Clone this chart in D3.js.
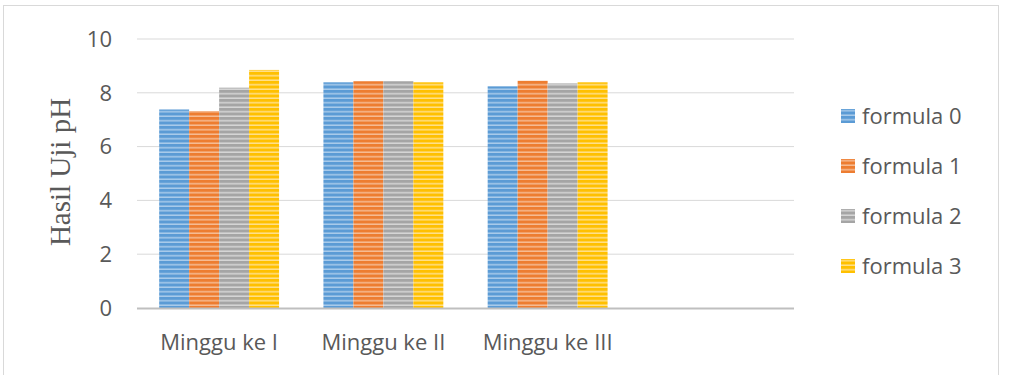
<!DOCTYPE html>
<html>
<head>
<meta charset="utf-8">
<script src="https://cdn.jsdelivr.net/npm/d3@7"></script>
<style>
  body { margin: 0; background: #fff; }
  svg { display: block; }
</style>
</head>
<body>
<svg id="chart" width="1018" height="375"></svg>
<script>
// data
const categories = ['Minggu ke I', 'Minggu ke II', 'Minggu ke III', ''];
const seriesNames = ['formula 0', 'formula 1', 'formula 2', 'formula 3'];
const formula0 = [7.38, 8.39, 8.24];
const formula1 = [7.32, 8.43, 8.45];
const formula2 = [8.19, 8.43, 8.35];
const formula3 = [8.85, 8.39, 8.39];
const yTicks = [0, 2, 4, 6, 8, 10];

const seriesValues = [formula0, formula1, formula2, formula3];
const colors = ['#5B9BD5', '#ED7D31', '#A5A5A5', '#FFC000'];
const lightColors = ['#A9CBEA', '#F6BC94', '#D6D6D6', '#FFE08A'];

const svg = d3.select('#chart');

// rand om de grafiek
svg.append('rect')
    .attr('x', 3.5).attr('y', 5.5)
    .attr('width', 995).attr('height', 380)
    .attr('fill', '#fff')
    .attr('stroke', '#D9D9D9')
    .attr('stroke-width', 1);

// streeppatronen voor de staven
const defs = svg.append('defs');
colors.forEach((c, i) => {
    const p = defs.append('pattern')
        .attr('id', 'stripe' + i)
        .attr('patternUnits', 'userSpaceOnUse')
        .attr('width', 10).attr('height', 4.5);
    p.append('rect').attr('width', 10).attr('height', 4.5).attr('fill', c);
    p.append('rect').attr('y', 3).attr('width', 10).attr('height', 1.5).attr('fill', lightColors[i]);
});

const margin = { left: 137, right: 224, top: 39, bottom: 67 };
const width = 1018 - margin.left - margin.right;
const plotBottom = 308;
const labelFont = 'Open Sans, sans-serif';

const x0 = d3.scaleBand()
    .domain(d3.range(categories.length))
    .range([margin.left, margin.left + width])
    .paddingInner(0.27)
    .paddingOuter(0.135);

const x1 = d3.scaleBand()
    .domain(d3.range(seriesNames.length))
    .range([0, x0.bandwidth()]);

const y = d3.scaleLinear()
    .domain([0, 10])
    .range([plotBottom, margin.top]);

// rasterlijnen
svg.append('g')
    .selectAll('line')
    .data(yTicks.filter(d => d > 0))
    .join('line')
    .attr('x1', margin.left).attr('x2', margin.left + width)
    .attr('y1', d => y(d)).attr('y2', d => y(d))
    .attr('stroke', '#D9D9D9')
    .attr('stroke-width', 1);

// y-as labels
svg.append('g')
    .selectAll('text')
    .data(yTicks)
    .join('text')
    .attr('x', 112)
    .attr('y', d => y(d))
    .attr('dy', '0.35em')
    .attr('text-anchor', 'end')
    .attr('font-family', labelFont)
    .attr('font-size', 22)
    .attr('fill', '#595959')
    .text(d => d);

// staven
const groups = svg.append('g')
    .selectAll('g')
    .data(categories.slice(0, 3))
    .join('g')
    .attr('transform', (d, i) => `translate(${x0(i)},0)`);

groups.selectAll('rect')
    .data((d, i) => seriesValues.map((s, j) => ({ j, v: s[i] })))
    .join('rect')
    .attr('x', d => x1(d.j))
    .attr('width', x1.bandwidth())
    .attr('y', d => y(d.v))
    .attr('height', d => plotBottom - y(d.v))
    .attr('fill', d => `url(#stripe${d.j})`);

// x-as lijn
svg.append('line')
    .attr('x1', margin.left).attr('x2', margin.left + width)
    .attr('y1', plotBottom + 0.5).attr('y2', plotBottom + 0.5)
    .attr('stroke', '#BFBFBF')
    .attr('stroke-width', 2);

// categorie labels
svg.append('g')
    .selectAll('text')
    .data(categories.slice(0, 3))
    .join('text')
    .attr('x', (d, i) => x0(i) + x0.bandwidth() / 2)
    .attr('y', 342)
    .attr('dy', '0.35em')
    .attr('text-anchor', 'middle')
    .attr('font-family', labelFont)
    .attr('font-size', 22)
    .attr('fill', '#595959')
    .text(d => d);

// as titel
svg.append('text')
    .attr('transform', 'translate(70,172) rotate(-90)')
    .attr('text-anchor', 'middle')
    .attr('font-family', 'Liberation Serif, Times New Roman, serif')
    .attr('font-size', 29)
    .attr('fill', '#595959')
    .text('Hasil Uji pH');

// legenda
const legend = svg.append('g')
    .selectAll('g')
    .data(seriesNames)
    .join('g')
    .attr('transform', (d, i) => `translate(841,${116 + i * 50})`);

legend.append('rect')
    .attr('x', 0).attr('y', -7)
    .attr('width', 14).attr('height', 14)
    .attr('fill', (d, i) => `url(#stripe${i})`);

legend.append('text')
    .attr('x', 21)
    .attr('dy', '0.35em')
    .attr('font-family', labelFont)
    .attr('font-size', 22)
    .attr('fill', '#595959')
    .text(d => d);
</script>
</body>
</html>
